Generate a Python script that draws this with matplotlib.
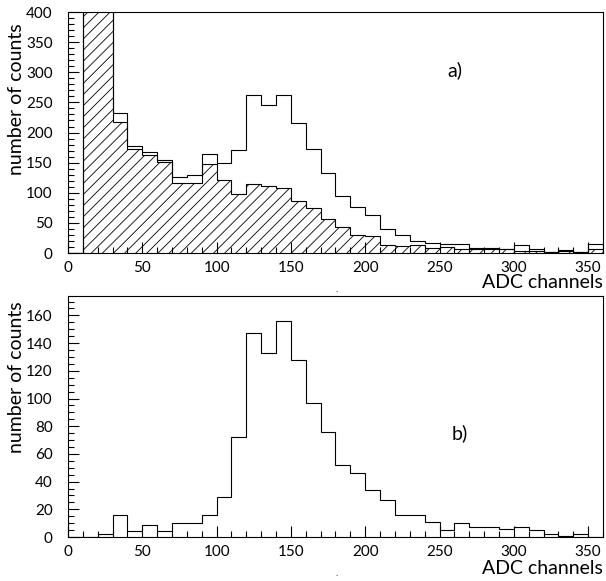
import numpy as np
import matplotlib
matplotlib.use('Agg')
import matplotlib.pyplot as plt
from matplotlib.ticker import MultipleLocator

plt.rcParams['font.family'] = ['Lato', 'DejaVu Sans']
plt.rcParams['hatch.linewidth'] = 0.6

# bin edges in ADC channels (10 channel bins)
edges = np.arange(0, 370, 10)

# panel a) - all events (open) and events after cut (hatched)
counts_a_all = [0, 650, 520, 233, 178, 168, 154, 126, 129, 165, 150, 171,
                263, 245, 262, 215, 172, 133, 95, 76, 63, 40, 30, 20,
                16, 15, 15, 9, 8, 7, 13, 7, 2, 5, 2, 15]
counts_a_cut = [0, 650, 520, 217, 173, 163, 151, 116, 117, 148, 122, 98,
                115, 111, 108, 86, 74, 57, 43, 30, 29, 14, 12, 13,
                9, 10, 6, 7, 6, 6, 4, 3, 1, 3, 2, 6]

# panel b)
counts_b = [0, 0, 2, 16, 4, 9, 4, 10, 10, 16, 29, 72,
            147, 133, 156, 128, 97, 76, 52, 46, 34, 27, 16, 16,
            11, 5, 10, 7, 7, 6, 7, 5, 2, 1, 2, 0]

fig = plt.figure(figsize=(6.06, 5.81), dpi=100)
ax1 = fig.add_axes([0.1122, 0.5645, 0.8828, 0.4148])
ax2 = fig.add_axes([0.1122, 0.0757, 0.8828, 0.4148])

ax1.stairs(counts_a_cut, edges, fill=True, facecolor='none', edgecolor='black',
           hatch='///', linewidth=0.8)
ax1.stairs(counts_a_all, edges, color='black', linewidth=0.8)
ax1.set_ylim(0, 400)
ax1.yaxis.set_major_locator(MultipleLocator(50))
ax1.yaxis.set_minor_locator(MultipleLocator(10))
ax1.text(255, 304, 'a)', fontsize=14, ha='left', va='center')

ax2.stairs(counts_b, edges, color='black', linewidth=0.8)
ax2.set_ylim(0, 174)
ax2.yaxis.set_major_locator(MultipleLocator(20))
ax2.yaxis.set_minor_locator(MultipleLocator(5))
ax2.text(258, 75, 'b)', fontsize=14, ha='left', va='center')

for ax in (ax1, ax2):
    ax.set_xlim(0, 360)
    ax.xaxis.set_major_locator(MultipleLocator(50))
    ax.xaxis.set_minor_locator(MultipleLocator(10))
    ax.tick_params(which='both', direction='in', top=False, right=False,
                   labelsize=11, width=0.8)
    ax.tick_params(axis='y', which='major', length=8, pad=11)
    ax.tick_params(axis='y', which='minor', length=4)
    ax.tick_params(axis='x', which='major', length=8, pad=6)
    ax.tick_params(axis='x', which='minor', length=4)
    for s in ax.spines.values():
        s.set_linewidth(0.8)

# axis titles placed like the original
fig.text(0.028, 0.83, 'number of counts', rotation=90, fontsize=14,
         ha='center', va='center')
fig.text(0.028, 0.35, 'number of counts', rotation=90, fontsize=14,
         ha='center', va='center')
fig.text(0.995, 0.513, 'ADC channels', fontsize=14, ha='right', va='center')
fig.text(0.995, 0.022, 'ADC channels', fontsize=14, ha='right', va='center')

# stray dots present in the original scan
fig.text(0.556, 0.497, '.', fontsize=7, ha='center', va='baseline')
fig.text(0.556, 0.008, '.', fontsize=7, ha='center', va='baseline')

plt.savefig('out.png', dpi=100)
